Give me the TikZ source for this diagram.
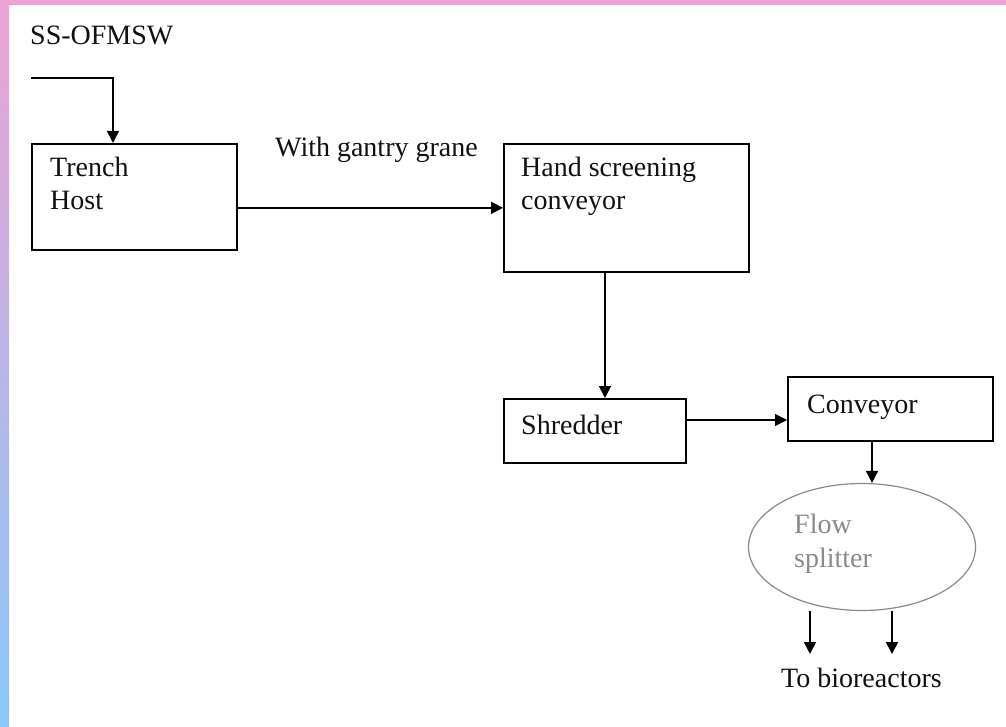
\documentclass[tikz,border=0pt]{standalone}
\usepackage{fontspec}
\setmainfont{Liberation Serif}
\usetikzlibrary{arrows.meta,shapes.geometric}
\definecolor{pinkstrip}{HTML}{EEA3D6}
\definecolor{bluestrip}{HTML}{88C8FA}
\definecolor{txt}{HTML}{111111}
\definecolor{graytxt}{HTML}{8A8A8A}
\begin{document}
\begin{tikzpicture}[x=1pt,y=-1pt,
  box/.style={draw=black, line width=1.7pt, rectangle, inner sep=0pt, anchor=north west},
  lbl/.style={anchor=base west, inner sep=0pt, text=txt, font=\fontsize{28}{34}\selectfont},
  arr/.style={draw=black, line width=1.6pt, -{Triangle[length=12pt,width=12pt]}},
  ]
\useasboundingbox (0,0) rectangle (1006,727);
\fill[white] (0,0) rectangle (1006,727);
\shade[top color=pinkstrip, bottom color=bluestrip] (0,0) rectangle (9,727);
\fill[pinkstrip] (0,0) rectangle (1006,5);

% boxes
\node[box, minimum width=205pt, minimum height=106pt] (trench) at (31,143) {};
\node[box, minimum width=245pt, minimum height=128pt] (hand) at (503,143) {};
\node[box, minimum width=182pt, minimum height=64pt] (shred) at (503,398) {};
\node[box, minimum width=205pt, minimum height=64pt] (conv) at (787,376) {};
\node[ellipse, draw=graytxt, line width=1.2pt, minimum width=227pt, minimum height=127pt, inner sep=0pt] (split) at (862,547) {};

% labels
\node[lbl] (src) at (30,45) {SS-OFMSW};
\node[lbl] (t1) at (50,177) {Trench};
\node[lbl] (t2) at (50,210) {Host};
\node[lbl] (gantry) at (275,157) {With gantry grane};
\node[lbl] (h1) at (521,177) {Hand screening};
\node[lbl] (h2) at (521,210) {conveyor};
\node[lbl] (s1) at (521,434) {Shredder};
\node[lbl] (c1) at (807,413) {Conveyor};
\node[lbl, text=graytxt] (f1) at (794,533) {Flow};
\node[lbl, text=graytxt] (f2) at (794,567) {splitter};
\node[lbl] (bio) at (781,687) {To bioreactors};

% connectors
\coordinate (in) at (31,78);
\draw[arr] (in) -| (trench.north -| 113,0);
\draw[arr] (trench.east |- hand.west) -- (hand.west);
\draw[arr] (hand.south -| 605,0) -- (shred.north -| 605,0);
\draw[arr] (shred.east |- 0,420) -- (conv.west |- 0,420);
\draw[arr] (conv.south -| 872,0) -- (split.north -| 872,0);
\coordinate (o1) at (810,611);
\coordinate (o2) at (892,611);
\draw[arr] (o1) -- ++(0,43);
\draw[arr] (o2) -- ++(0,43);
\end{tikzpicture}
\end{document}
